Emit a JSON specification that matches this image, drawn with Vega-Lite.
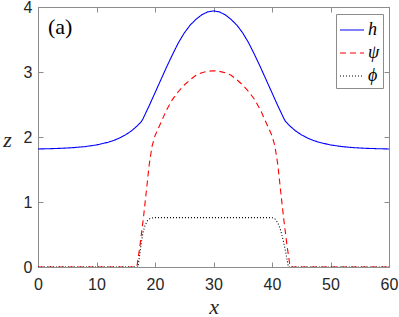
{
  "$schema": "https://vega.github.io/schema/vega-lite/v6.json",
  "autosize": {"type": "none"},
  "padding": {"left": 38, "top": 7, "right": 10, "bottom": 50},
  "width": 351,
  "height": 260,
  "background": "white",
  "data": {
    "values": [
      {"x": 0, "z": 1.816, "series": "h"},
      {"x": 2, "z": 1.82, "series": "h"},
      {"x": 4, "z": 1.826, "series": "h"},
      {"x": 6, "z": 1.836, "series": "h"},
      {"x": 8, "z": 1.852, "series": "h"},
      {"x": 10, "z": 1.878, "series": "h"},
      {"x": 12, "z": 1.919, "series": "h"},
      {"x": 13, "z": 1.949, "series": "h"},
      {"x": 14, "z": 1.987, "series": "h"},
      {"x": 15, "z": 2.035, "series": "h"},
      {"x": 16, "z": 2.096, "series": "h"},
      {"x": 17, "z": 2.174, "series": "h"},
      {"x": 17.7, "z": 2.24, "series": "h"},
      {"x": 18, "z": 2.29, "series": "h"},
      {"x": 19, "z": 2.48, "series": "h"},
      {"x": 20, "z": 2.68, "series": "h"},
      {"x": 21, "z": 2.88, "series": "h"},
      {"x": 22, "z": 3.08, "series": "h"},
      {"x": 23, "z": 3.27, "series": "h"},
      {"x": 24, "z": 3.45, "series": "h"},
      {"x": 25, "z": 3.6, "series": "h"},
      {"x": 26, "z": 3.72, "series": "h"},
      {"x": 27, "z": 3.81, "series": "h"},
      {"x": 28, "z": 3.88, "series": "h"},
      {"x": 29, "z": 3.925, "series": "h"},
      {"x": 30, "z": 3.94, "series": "h"},
      {"x": 31, "z": 3.925, "series": "h"},
      {"x": 32, "z": 3.88, "series": "h"},
      {"x": 33, "z": 3.81, "series": "h"},
      {"x": 34, "z": 3.72, "series": "h"},
      {"x": 35, "z": 3.6, "series": "h"},
      {"x": 36, "z": 3.45, "series": "h"},
      {"x": 37, "z": 3.27, "series": "h"},
      {"x": 38, "z": 3.08, "series": "h"},
      {"x": 39, "z": 2.88, "series": "h"},
      {"x": 40, "z": 2.68, "series": "h"},
      {"x": 41, "z": 2.48, "series": "h"},
      {"x": 42, "z": 2.29, "series": "h"},
      {"x": 42.3, "z": 2.24, "series": "h"},
      {"x": 43, "z": 2.174, "series": "h"},
      {"x": 44, "z": 2.096, "series": "h"},
      {"x": 45, "z": 2.035, "series": "h"},
      {"x": 46, "z": 1.987, "series": "h"},
      {"x": 47, "z": 1.949, "series": "h"},
      {"x": 48, "z": 1.919, "series": "h"},
      {"x": 50, "z": 1.878, "series": "h"},
      {"x": 52, "z": 1.852, "series": "h"},
      {"x": 54, "z": 1.836, "series": "h"},
      {"x": 56, "z": 1.826, "series": "h"},
      {"x": 58, "z": 1.82, "series": "h"},
      {"x": 60, "z": 1.816, "series": "h"},

      {"x": 0, "z": 0, "series": "ψ"},
      {"x": 16.9, "z": 0, "series": "ψ"},
      {"x": 17.4, "z": 0.31, "series": "ψ"},
      {"x": 18, "z": 0.74, "series": "ψ"},
      {"x": 18.5, "z": 1.15, "series": "ψ"},
      {"x": 19, "z": 1.57, "series": "ψ"},
      {"x": 19.5, "z": 1.86, "series": "ψ"},
      {"x": 20, "z": 2.02, "series": "ψ"},
      {"x": 21, "z": 2.22, "series": "ψ"},
      {"x": 22, "z": 2.42, "series": "ψ"},
      {"x": 23, "z": 2.58, "series": "ψ"},
      {"x": 24, "z": 2.7, "series": "ψ"},
      {"x": 25, "z": 2.8, "series": "ψ"},
      {"x": 26, "z": 2.88, "series": "ψ"},
      {"x": 27, "z": 2.95, "series": "ψ"},
      {"x": 28, "z": 2.99, "series": "ψ"},
      {"x": 29, "z": 3.01, "series": "ψ"},
      {"x": 30, "z": 3.02, "series": "ψ"},
      {"x": 31, "z": 3.01, "series": "ψ"},
      {"x": 32, "z": 2.99, "series": "ψ"},
      {"x": 33, "z": 2.95, "series": "ψ"},
      {"x": 34, "z": 2.88, "series": "ψ"},
      {"x": 35, "z": 2.8, "series": "ψ"},
      {"x": 36, "z": 2.7, "series": "ψ"},
      {"x": 37, "z": 2.58, "series": "ψ"},
      {"x": 38, "z": 2.42, "series": "ψ"},
      {"x": 39, "z": 2.22, "series": "ψ"},
      {"x": 40, "z": 2.02, "series": "ψ"},
      {"x": 40.5, "z": 1.86, "series": "ψ"},
      {"x": 41, "z": 1.57, "series": "ψ"},
      {"x": 41.5, "z": 1.15, "series": "ψ"},
      {"x": 42, "z": 0.74, "series": "ψ"},
      {"x": 42.6, "z": 0.31, "series": "ψ"},
      {"x": 43.1, "z": 0, "series": "ψ"},
      {"x": 60, "z": 0, "series": "ψ"},

      {"x": 0, "z": 0, "series": "ϕ"},
      {"x": 17.1, "z": 0, "series": "ϕ"},
      {"x": 17.4, "z": 0.2, "series": "ϕ"},
      {"x": 17.7, "z": 0.4, "series": "ϕ"},
      {"x": 18, "z": 0.55, "series": "ϕ"},
      {"x": 18.3, "z": 0.64, "series": "ϕ"},
      {"x": 18.7, "z": 0.71, "series": "ϕ"},
      {"x": 19.2, "z": 0.75, "series": "ϕ"},
      {"x": 20, "z": 0.76, "series": "ϕ"},
      {"x": 40, "z": 0.76, "series": "ϕ"},
      {"x": 40.5, "z": 0.74, "series": "ϕ"},
      {"x": 41, "z": 0.68, "series": "ϕ"},
      {"x": 41.5, "z": 0.56, "series": "ϕ"},
      {"x": 42, "z": 0.38, "series": "ϕ"},
      {"x": 42.4, "z": 0.2, "series": "ϕ"},
      {"x": 42.8, "z": 0, "series": "ϕ"},
      {"x": 60, "z": 0, "series": "ϕ"}
    ]
  },
  "resolve": {"axis": {"x": "independent", "y": "independent"}},
  "layer": [
    {
      "mark": {"type": "line", "strokeWidth": 1.1, "clip": true},
      "encoding": {
        "x": {
          "field": "x", "type": "quantitative",
          "scale": {"domain": [0, 60], "nice": false, "zero": false},
          "axis": {"title": "x", "values": [0, 10, 20, 30, 40, 50, 60], "tickSize": -5, "labelPadding": 14, "titlePadding": 4, "domain": true, "labelFlush": false}
        },
        "y": {
          "field": "z", "type": "quantitative",
          "scale": {"domain": [0, 4], "nice": false, "zero": false},
          "axis": {"title": "z", "values": [0, 1, 2, 3, 4], "tickSize": -5, "labelPadding": 11, "titleAngle": 0, "titleAlign": "center", "titleBaseline": "middle", "titleX": -31, "titleY": 132, "labelFlush": false}
        },
        "color": {
          "field": "series", "type": "nominal",
          "scale": {"domain": ["h", "ψ", "ϕ"], "range": ["#0000ff", "#ff0000", "#000000"]},
          "legend": {"title": null, "orient": "none", "legendX": 298, "legendY": 7}
        },
        "strokeDash": {
          "field": "series", "type": "nominal",
          "scale": {"domain": ["h", "ψ", "ϕ"], "range": [[1, 0], [6, 4], [1, 2]]},
          "legend": {"title": null, "orient": "none", "legendX": 298, "legendY": 7}
        }
      }
    },
    {
      "data": {"values": [{"label": "(a)"}]},
      "mark": {"type": "text", "font": "Liberation Serif, DejaVu Serif, serif", "fontSize": 22, "fontWeight": "normal", "align": "left", "baseline": "middle", "color": "#000000"},
      "encoding": {
        "x": {"datum": 1.7, "type": "quantitative", "scale": {"domain": [0, 60], "nice": false, "zero": false}, "axis": null},
        "y": {"datum": 3.69, "type": "quantitative", "scale": {"domain": [0, 4], "nice": false, "zero": false}, "axis": null},
        "text": {"field": "label"}
      }
    },
    {
      "mark": {"type": "line", "opacity": 0},
      "encoding": {
        "x": {
          "field": "x", "type": "quantitative",
          "scale": {"domain": [0, 60], "nice": false, "zero": false},
          "axis": {"orient": "top", "title": null, "labels": false, "values": [0, 10, 20, 30, 40, 50, 60], "tickSize": -5}
        },
        "y": {
          "field": "z", "type": "quantitative",
          "scale": {"domain": [0, 4], "nice": false, "zero": false},
          "axis": {"orient": "right", "title": null, "labels": false, "values": [0, 1, 2, 3, 4], "tickSize": -5}
        },
        "detail": {"field": "series"}
      }
    }
  ],
  "config": {
    "font": "Liberation Sans, Arial, sans-serif",
    "view": {"stroke": "#8c8c8c", "strokeWidth": 1},
    "axis": {
      "labelFont": "Liberation Sans, Arial, Helvetica, sans-serif",
      "labelFontSize": 16,
      "labelColor": "#262626",
      "domainColor": "#8c8c8c",
      "tickColor": "#8c8c8c",
      "grid": false,
      "titleFont": "Liberation Serif, DejaVu Serif, serif",
      "titleFontStyle": "italic",
      "titleFontWeight": "normal",
      "titleFontSize": 22,
      "titleColor": "#262626"
    },
    "legend": {
      "symbolType": "stroke",
      "symbolSize": 576,
      "symbolStrokeWidth": 1.2,
      "labelFont": "Liberation Serif, DejaVu Serif, serif",
      "labelFontStyle": "italic",
      "labelFontSize": 18,
      "labelColor": "#000000",
      "labelOffset": 3,
      "rowPadding": 1,
      "padding": 3,
      "strokeColor": "#8c8c8c",
      "fillColor": "#ffffff",
      "cornerRadius": 0
    }
  }
}
